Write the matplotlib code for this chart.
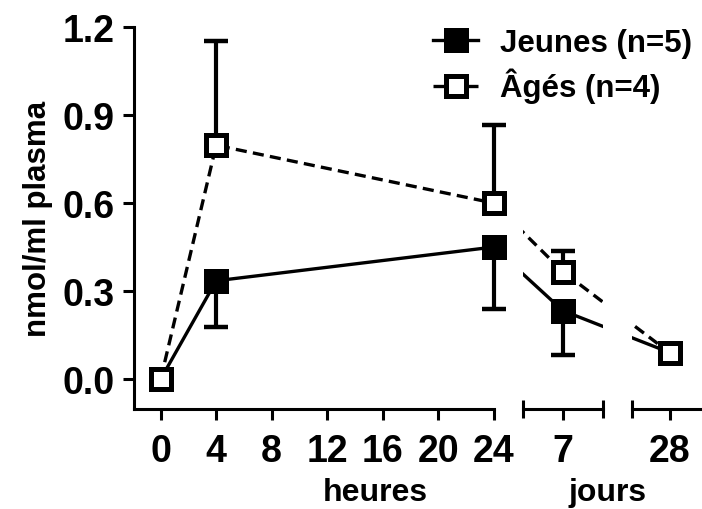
import matplotlib
matplotlib.use("Agg")
import matplotlib.pyplot as plt
import numpy as np
from matplotlib.lines import Line2D
from matplotlib.ticker import NullFormatter

plt.rcParams["font.family"] = ["Liberation Sans", "DejaVu Sans"]
plt.rcParams["font.weight"] = "bold"
plt.rcParams["axes.labelweight"] = "bold"
plt.rcParams["lines.scale_dashes"] = False

# sampling times in hours: 0, 4, 24 h then 7 and 28 days
time_h = [0, 4, 24, 7 * 24, 28 * 24]
jeunes_mean = [0.0, 0.335, 0.45, 0.233, 0.09]
jeunes_err = [0.0, 0.157, 0.21, 0.151, 0.02]
ages_mean = [0.0, 0.797, 0.600, 0.366, 0.089]
ages_err = [0.0, 0.354, 0.266, 0.069, 0.02]
labels = ["Jeunes (n=5)", "Âgés (n=4)"]

hour_ticks = [0, 4, 8, 12, 16, 20, 24]
day_ticks = [7, 28]
y_ticks = [0.0, 0.3, 0.6, 0.9, 1.2]

# piecewise-linear time axis: hours keep their scale, days are squeezed in
T_KNOTS = [-1000, 24, 168, 672, 5000]
U_KNOTS = [-1000, 24, 29.0, 36.72, 36.72 + (5000 - 672) * (36.72 - 29.0) / 504]


def fwd(t):
    return np.interp(t, T_KNOTS, U_KNOTS)


def inv(u):
    return np.interp(u, U_KNOTS, T_KNOTS)


# layout (pixels) of the three axis pieces
W, H = 702, 510
PX_PER_U = 13.87
U0_PX = 160.7
Y_BOTTOM_PX, Y_TOP_PX = 410, 28
spans = [(-1.93, 24.0), (26.14, 31.91), (33.96, 39.03)]

DASH = (0, (8, 4.5))
LW = 2.4
MS, MEW = 13.7, 3.6
TICK_FS = 27

fig = plt.figure(figsize=(W / 100, H / 100), dpi=100)

axes = []
for i, (lo, hi) in enumerate(spans):
    left = (U0_PX + lo * PX_PER_U) / W
    width = (hi - lo) * PX_PER_U / W
    ax = fig.add_axes([left, 1 - Y_BOTTOM_PX / H, width,
                       (Y_BOTTOM_PX - Y_TOP_PX) / H])
    ax.set_xscale("function", functions=(fwd, inv))
    ax.set_xlim(inv(lo), inv(hi))
    ax.set_ylim(-0.102, 1.2)
    for side in ["top", "right"]:
        ax.spines[side].set_visible(False)
    ax.spines["bottom"].set_linewidth(2.2)
    ax.spines["left"].set_linewidth(2.2)
    ax.tick_params(axis="x", which="major", direction="out", length=8,
                   width=2.2, labelsize=TICK_FS, pad=9)
    ax.tick_params(axis="x", which="minor", direction="inout", length=13,
                   width=2.2)
    ax.xaxis.set_minor_formatter(NullFormatter())
    if i == 0:
        ax.tick_params(axis="y", direction="out", length=8, width=2.2,
                       labelsize=TICK_FS, pad=6)
        ax.set_yticks(y_ticks, [f"{v:.1f}" for v in y_ticks])
    else:
        ax.spines["left"].set_visible(False)
        ax.tick_params(axis="y", left=False, labelleft=False)
    axes.append(ax)

ax1, ax2, ax3 = axes
ax1.set_xticks(hour_ticks, [str(h) for h in hour_ticks])
ax1.set_xticks([24], minor=True)
ax2.set_xticks([day_ticks[0] * 24], [str(day_ticks[0])])
ax2.set_xticks([inv(spans[1][0]), inv(spans[1][1])], minor=True)
ax3.set_xticks([day_ticks[1] * 24], [str(day_ticks[1])])
ax3.set_xticks([inv(spans[2][0])], minor=True)

t = np.array(time_h, dtype=float)
series = [
    (np.array(jeunes_mean), np.array(jeunes_err), "-", "black", False, 4),
    (np.array(ages_mean), np.array(ages_err), DASH, "white", True, 5),
]

for ax, (lo, hi) in zip(axes, spans):
    u = fwd(t)
    inside = (u >= lo - 0.05) & (u <= hi + 0.05)
    for mean, err, ls, face, upward, z in series:
        ax.plot(t, mean, ls=ls, color="black", lw=LW, zorder=2)
        if not inside.any():
            continue
        zeros = np.zeros(inside.sum())
        yerr = [zeros, err[inside]] if upward else [err[inside], zeros]
        eb = ax.errorbar(t[inside], mean[inside], yerr=yerr, fmt="none",
                         ecolor="black", elinewidth=3.0, capsize=8.5,
                         capthick=3.2, zorder=3)
        for art in eb.get_children():
            art.set_clip_on(False)
        ax.plot(t[inside], mean[inside], ls="none", marker="s", ms=MS,
                mew=MEW, mfc=face, mec="black", clip_on=False, zorder=z)

ax1.set_ylabel("nmol/ml plasma", fontsize=22.5, va="center")
ax1.yaxis.set_label_coords(-0.268, 0.5)

fig.text(375 / W, 1 - 493 / H, "heures", ha="center", va="center",
         fontsize=23)
fig.text(608 / W, 1 - 493 / H, "jours", ha="center", va="center",
         fontsize=23)

handles = [
    Line2D([], [], color="black", lw=LW, marker="s", ms=MS, mew=MEW,
           mfc="black", mec="black"),
    Line2D([], [], color="black", lw=LW, ls=DASH, marker="s", ms=MS,
           mew=MEW, mfc="white", mec="black"),
]
fig.legend(handles, labels, loc="upper left",
           bbox_to_anchor=(433 / W, 1 - 29 / H), frameon=False,
           fontsize=22.5, handlelength=1.45, handletextpad=0.7,
           labelspacing=0.32, borderpad=0, borderaxespad=0, numpoints=1)

fig.savefig("out.png", dpi=100)
